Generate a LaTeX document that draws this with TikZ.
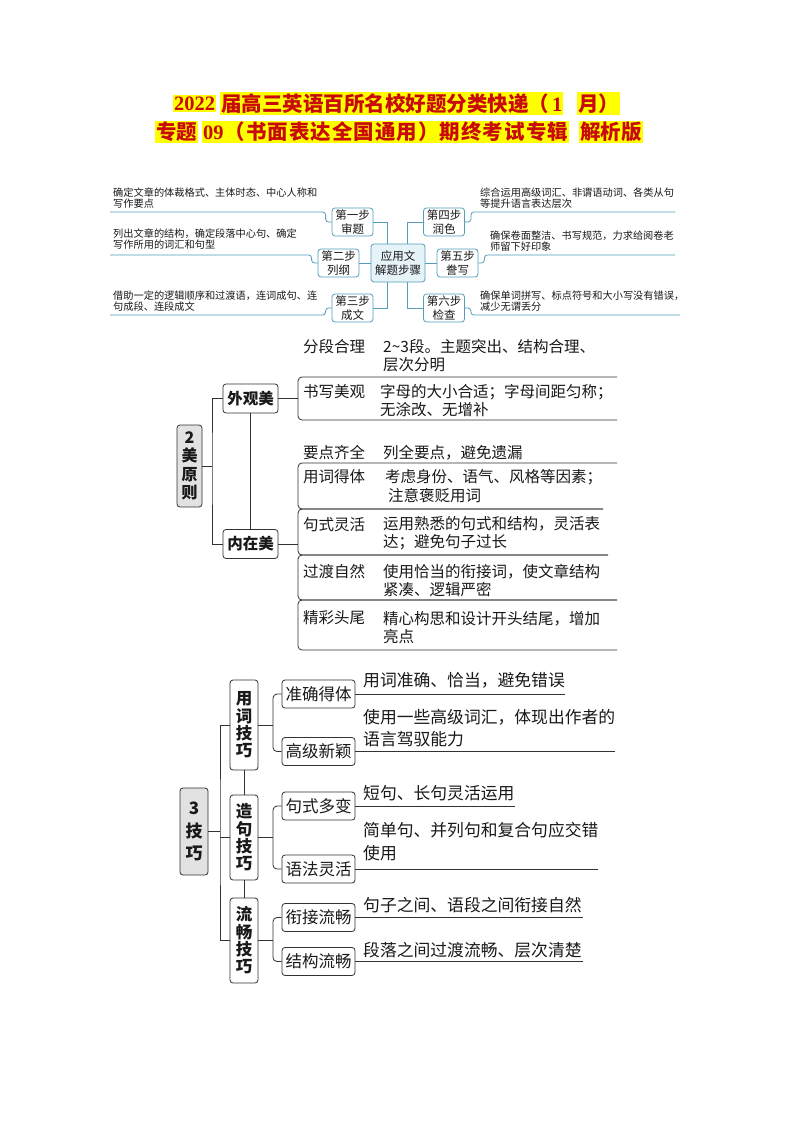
\documentclass[tikz,border=0pt]{standalone}
\usepackage{fontspec}
\setmainfont{Noto Sans CJK SC}
\newfontfamily\tnr{Liberation Serif}
\newfontfamily\ttlwide[LetterSpace=5]{Noto Sans CJK SC}
\usetikzlibrary{calc}
\definecolor{ttlred}{RGB}{200,10,10}
\definecolor{hl}{RGB}{255,255,0}
\definecolor{tealc}{RGB}{84,158,188}
\definecolor{cfill}{RGB}{230,243,249}
\definecolor{ink}{RGB}{25,25,25}
\definecolor{lne}{RGB}{50,50,50}
\definecolor{gfill}{RGB}{226,226,226}
\tikzset{
  ttl/.style={fill=hl, text=ttlred, inner xsep=1pt, inner ysep=1.5pt, anchor=west, font=\fontsize{20.5}{21}\selectfont\bfseries},
  stepbox/.style={draw=tealc, line width=0.8pt, rounded corners=3pt, fill=white, align=center, font=\fontsize{11.5}{13.5}\selectfont, minimum width=41pt, minimum height=28pt, inner sep=0pt, text=ink},
  hubbox/.style={stepbox, fill=cfill, minimum width=54pt, minimum height=38pt},
  tline/.style={draw=tealc, line width=0.8pt},
  ttext/.style={anchor=west, align=left, inner sep=0pt, font=\fontsize{10.2}{11}\selectfont, text=ink},
  gbox/.style={draw=lne, line width=0.8pt, rounded corners=3pt, fill=gfill, align=center, font=\fontsize{16}{18.5}\selectfont\bfseries, inner sep=0pt, text=ink},
  wbox/.style={draw=lne, line width=0.8pt, rounded corners=3pt, fill=white, align=center, font=\fontsize{15.5}{18}\selectfont\bfseries, inner sep=0pt, minimum width=55pt, minimum height=29pt, text=ink},
  vbox/.style={gbox, fill=white, minimum width=28pt, font=\fontsize{16.5}{17.3}\selectfont\bfseries},
  lbox/.style={draw=lne, line width=0.8pt, rounded corners=3pt, fill=white, font=\fontsize{16.5}{18}\selectfont, inner sep=0pt, minimum width=73pt, minimum height=28pt, text=ink},
  mline/.style={draw=lne, line width=0.8pt},
  mtext/.style={anchor=west, align=left, inner sep=0pt, font=\fontsize{15.5}{18}\selectfont, text=ink},
  btext/.style={anchor=west, align=left, inner sep=0pt, font=\fontsize{16.8}{22.5}\selectfont, text=ink}
}
\begin{document}
\begin{tikzpicture}[x=1pt,y=-1pt]
\fill[white] (0,0) rectangle (794,1123);
\useasboundingbox (0,0) rectangle (794,1123);

% ---------- title ----------
\node[ttl] (h1a) at (173,103.5) {\tnr 2022};
\node[ttl] (h1b) at (220,103.5) {届高三英语百所名校好题分类快递（\hspace{3pt}{\tnr 1}\hspace{4pt}};
\node[ttl] (h1c) at (577,103.5) {月）};
\node[ttl] (h2a) at (155,132) {专题};
\node[ttl] (h2b) at (202,132) {{\tnr 09}\hspace{1pt}{\ttlwide\bfseries （书面表达全国通用）期终考试专辑}};
\node[ttl] (h2c) at (579,132) {解析版};

% ---------- top diagram ----------
\node[hubbox] (hub) at (398,263) {应用文\\解题步骤};
\node[stepbox] (s1) at (352.5,222) {第一步\\审题};
\node[stepbox] (s2) at (338.5,263) {第二步\\列纲};
\node[stepbox] (s3) at (352.5,308) {第三步\\成文};
\node[stepbox] (s4) at (444,222) {第四步\\润色};
\node[stepbox] (s5) at (457.5,263) {第五步\\誊写};
\node[stepbox] (s6) at (444,308) {第六步\\检查};

\draw[tline] (s1.east) -| ($(hub.north west)!0.3!(hub.north east)$);
\draw[tline] (s3.east) -| ($(hub.south west)!0.3!(hub.south east)$);
\draw[tline] (s4.west) -| ($(hub.north west)!0.67!(hub.north east)$);
\draw[tline] (s6.west) -| ($(hub.south west)!0.67!(hub.south east)$);
\draw[tline] (hub.west) -- (s2.east);
\draw[tline] (hub.east) -- (s5.west);

\coordinate (u1) at (110,212);
\coordinate (u2) at (110,255);
\coordinate (u3) at (110,315);
\coordinate (u4) at (675,212);
\coordinate (u5) at (675,255);
\coordinate (u6) at (680,315);
\draw[tline, rounded corners=3pt] (s1.west) -- ++(-6,0) |- (u1);
\draw[tline, rounded corners=3pt] (s2.west) -- ++(-6,0) |- (u2);
\draw[tline, rounded corners=3pt] (s3.west) -- ++(-6,0) |- (u3);
\draw[tline, rounded corners=3pt] (s4.east) -- ++(6,0) |- (u4);
\draw[tline, rounded corners=3pt] (s5.east) -- ++(6,0) |- (u5);
\draw[tline, rounded corners=3pt] (s6.east) -- ++(6,0) |- (u6);

\node[ttext] (t1) at (113,198.5) {确定文章的体裁格式、主体时态、中心人称和\\写作要点};
\node[ttext] (t2) at (113,239) {列出文章的结构，确定段落中心句、确定\\写作所用的词汇和句型};
\node[ttext] (t3) at (113,301) {借助一定的逻辑顺序和过渡语，连词成句、连\\句成段、连段成文};
\node[ttext] (t4) at (480,198.5) {综合运用高级词汇、非谓语动词、各类从句\\等提升语言表达层次};
\node[ttext] (t5) at (490,241) {确保卷面整洁、书写规范，力求给阅卷老\\师留下好印象};
\node[ttext] (t6) at (480,301.5) {确保单词拼写、标点符号和大小写没有错误，\\减少无谓丢分};

% ---------- middle: 2 美原则 ----------
\node[gbox, minimum width=25pt, minimum height=82pt] (m0) at (189.5,466) {2\\美\\原\\则};
\node[wbox] (m1) at (250.5,398.5) {外观美};
\node[wbox] (m2) at (250.5,544) {内在美};
\coordinate (mj) at (212,466);
\draw[mline] (m0.east) -- (mj);
\draw[mline] (m1.west) -| (mj) |- (m2.west);
\draw[mline] (m1.south) -- (m2.north);
\coordinate (mb1) at (298,398.5);
\coordinate (mb2) at (298,544);
\draw[mline] (m1.east) -- (mb1);
\draw[mline] (m2.east) -- (mb2);
\draw[mline, rounded corners=4pt] (617,377) -- (298,377) -- (298,420) -- (617,420);
\draw[mline, rounded corners=4pt] (617,463) -- (298,463) -- (298,509) -- (603,509);
\draw[mline, rounded corners=4pt] (603,509) -- (298,509) -- (298,555) -- (608,555);
\draw[mline, rounded corners=4pt] (608,555) -- (298,555) -- (298,600) -- (617,600);
\draw[mline, rounded corners=4pt] (617,600) -- (298,600) -- (298,650) -- (617,650);

\node[mtext] (p1a) at (303,347) {分段合理};
\node[mtext] (p1b) at (383,356) {2\textasciitilde3段。主题突出、结构合理、\\层次分明};
\node[mtext] (p2a) at (303,392) {书写美观};
\node[mtext] (p2b) at (380,401) {字母的大小合适；字母间距匀称；\\无涂改、无增补};
\node[mtext] (p3a) at (303,453) {要点齐全};
\node[mtext] (p3b) at (383,453) {列全要点，避免遗漏};
\node[mtext] (p4a) at (303,477) {用词得体};
\node[mtext] (p4b) at (385,477) {考虑身份、语气、风格等因素；};
\node[mtext] (p4c) at (388,496) {注意褒贬用词};
\node[mtext] (p5a) at (303,525) {句式灵活};
\node[mtext] (p5b) at (383,533.5) {运用熟悉的句式和结构，灵活表\\达；避免句子过长};
\node[mtext] (p6a) at (303,572) {过渡自然};
\node[mtext] (p6b) at (383,581) {使用恰当的衔接词，使文章结构\\紧凑、逻辑严密};
\node[mtext] (p7a) at (303,618) {精彩头尾};
\node[mtext] (p7b) at (383,627.5) {精心构思和设计开头结尾，增加\\亮点};

% ---------- bottom: 3 技巧 ----------
\node[gbox, minimum width=28pt, minimum height=87pt, font=\fontsize{17}{22.5}\selectfont\bfseries] (b0) at (194,831.5) {3\\技\\巧};
\node[vbox, minimum height=90pt] (b1) at (244,725) {用\\词\\技\\巧};
\node[vbox, minimum height=85pt] (b2) at (244,837.5) {造\\句\\技\\巧};
\node[vbox, minimum height=85pt] (b3) at (244,940.5) {流\\畅\\技\\巧};
\coordinate (bj) at (220,831.5);
\draw[mline] (b0.east) -- (bj);
\draw[mline] (b1.west) -| (bj) |- (b3.west);
\draw[mline] (b2.west) -- (b2.west -| bj);
\draw[mline] (b1.south) -- (b2.north);
\draw[mline] (b2.south) -- (b3.north);

\node[lbox] (c1) at (318.5,694) {准确得体};
\node[lbox] (c2) at (318.5,751.5) {高级新颖};
\node[lbox] (c3) at (318.5,806) {句式多变};
\node[lbox] (c4) at (318.5,869) {语法灵活};
\node[lbox] (c5) at (318.5,917.5) {衔接流畅};
\node[lbox] (c6) at (318.5,961.5) {结构流畅};

\coordinate (k1) at (273,725);
\coordinate (k2) at (273,837.5);
\coordinate (k3) at (273,940.5);
\draw[mline] (b1.east) -- (k1);
\draw[mline] (b2.east) -- (k2);
\draw[mline] (b3.east) -- (k3);
\draw[mline, rounded corners=4pt] (c1.west) -| (k1) |- (c2.west);
\draw[mline, rounded corners=4pt] (c3.west) -| (k2) |- (c4.west);
\draw[mline, rounded corners=4pt] (c5.west) -| (k3) |- (c6.west);

\coordinate (e1) at (565,694);
\coordinate (e2) at (615,751.5);
\coordinate (e3) at (515,806);
\coordinate (e4) at (598,869);
\coordinate (e5) at (583,917.5);
\coordinate (e6) at (583,961.5);
\draw[mline] (c1.east) -- (e1);
\draw[mline] (c2.east) -- (e2);
\draw[mline] (c3.east) -- (e3);
\draw[mline] (c4.east) -- (e4);
\draw[mline] (c5.east) -- (e5);
\draw[mline] (c6.east) -- (e6);

\node[btext] (q1) at (363,680) {用词准确、恰当，避免错误};
\node[btext] (q2) at (363,728) {使用一些高级词汇，体现出作者的\\语言驾驭能力};
\node[btext] (q3) at (363,793) {短句、长句灵活运用};
\node[btext] (q4) at (363,841.5) {简单句、并列句和复合句应交错\\使用};
\node[btext] (q5) at (363,905) {句子之间、语段之间衔接自然};
\node[btext] (q6) at (363,950) {段落之间过渡流畅、层次清楚};
\end{tikzpicture}
\end{document}
